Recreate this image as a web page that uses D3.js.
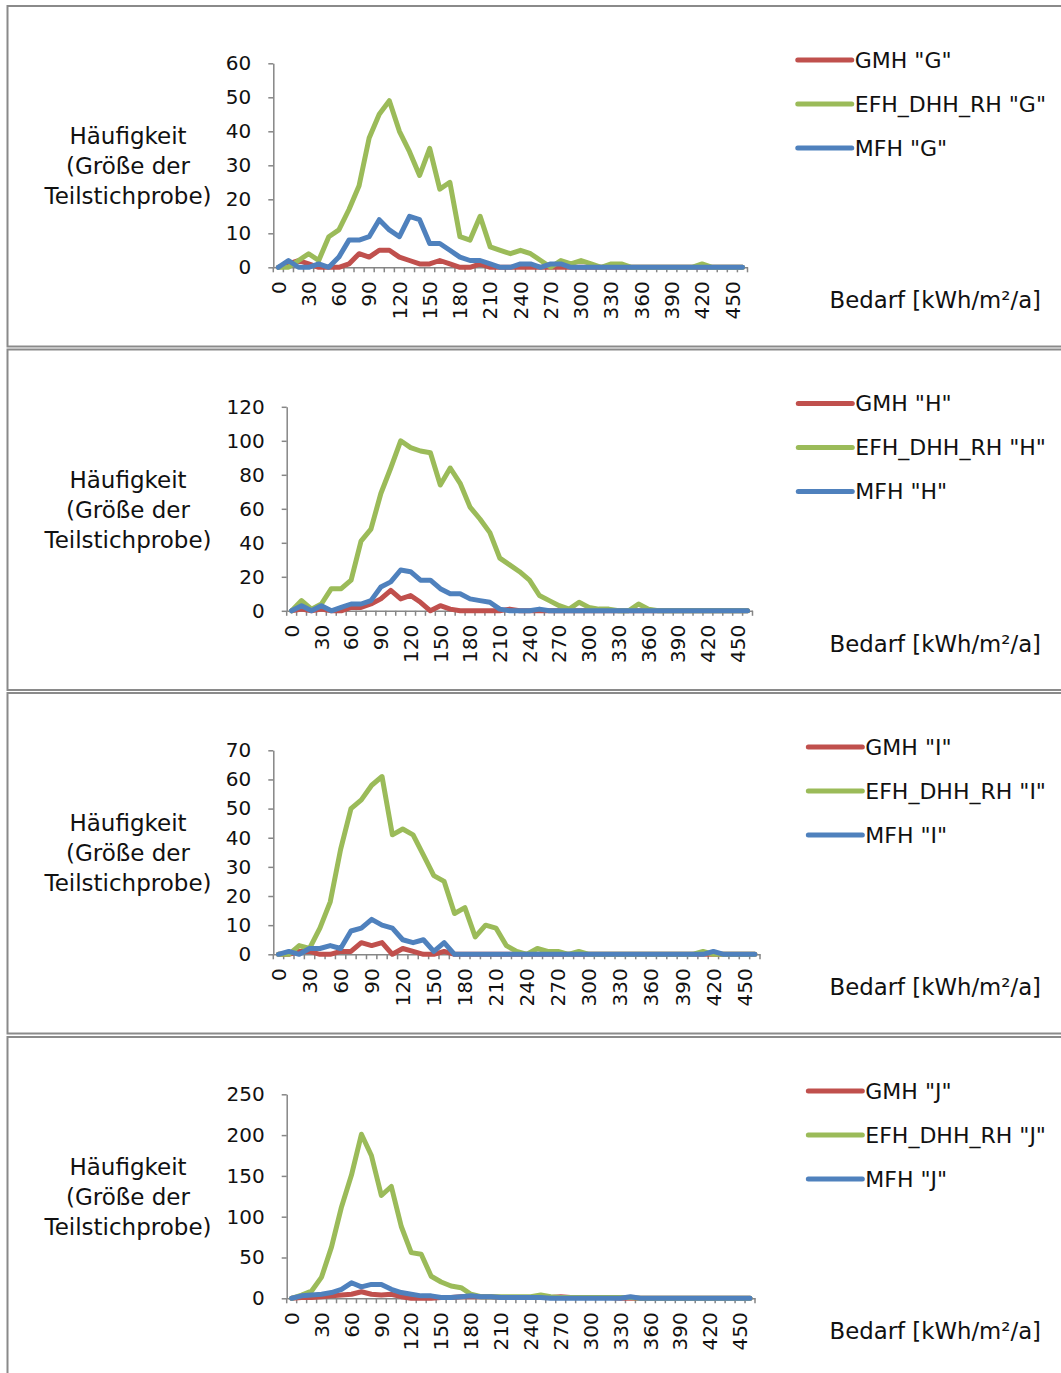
<!DOCTYPE html>
<html>
<head>
<meta charset="utf-8">
<script src="https://cdn.jsdelivr.net/npm/d3@7"></script>
<style>
  body { margin: 0; background: #fff; }
  text { font-family: "DejaVu Sans", sans-serif; fill: #111; }
</style>
</head>
<body>
<svg id="chart" width="1061" height="1373"></svg>
<script>
// DATA

var categories = [0,10,20,30,40,50,60,70,80,90,100,110,120,130,140,150,160,170,180,190,
  200,210,220,230,240,250,260,270,280,290,300,310,320,330,340,350,360,370,380,390,
  400,410,420,430,440,450,460];

var seriesNames  = ["GMH", "EFH_DHH_RH", "MFH"];
var seriesColors = ["#c0504d", "#9bbb59", "#4f81bd"];

var gmhG = [0,1,2,1,0,0,0,1,4,3, 5,5,3,2,1,1,2,1,0,0, 1,0,0,0,0,0,0,0,0,0, 0,0,0,0,0,0,0,0,0,0, 0,0,0,0,0,0,0];
var efhG = [0,0,2,4,2,9,11,17,24,38, 45,49,40,34,27,35,23,25,9,8, 15,6,5,4,5,4,2,0,2,1, 2,1,0,1,1,0,0,0,0,0, 0,0,1,0,0,0,0];
var mfhG = [0,2,0,0,1,0,3,8,8,9, 14,11,9,15,14,7,7,5,3,2, 2,1,0,0,1,1,0,1,1,0, 0,0,0,0,0,0,0,0,0,0, 0,0,0,0,0,0,0];

var gmhH = [0,1,0,1,0,0,2,2,4,7, 12,7,9,5,0,3,1,0,0,0, 0,0,1,0,0,0,0,0,0,0, 0,0,0,0,0,0,0,0,0,0, 0,0,0,0,0,0,0];
var efhH = [0,6,1,4,13,13,18,41,48,69, 84,100,96,94,93,74,84,75,61,54, 46,31,27,23,18,9,6,3,1,5, 2,1,1,0,0,4,1,0,0,0, 0,0,0,0,0,0,0];
var mfhH = [0,3,0,3,0,2,4,4,6,14, 17,24,23,18,18,13,10,10,7,6, 5,1,0,0,0,1,0,0,0,0, 0,0,0,0,0,0,0,0,0,0, 0,0,0,0,0,0,0];

var gmhI = [0,0,1,1,0,0,1,1,4,3, 4,0,2,1,0,0,1,0,0,0, 0,0,0,0,0,0,0,0,0,0, 0,0,0,0,0,0,0,0,0,0, 0,0,0,0,0,0,0];
var efhI = [0,0,3,2,9,18,36,50,53,58, 61,41,43,41,34,27,25,14,16,6, 10,9,3,1,0,2,1,1,0,1, 0,0,0,0,0,0,0,0,0,0, 0,1,0,0,0,0,0];
var mfhI = [0,1,0,2,2,3,2,8,9,12, 10,9,5,4,5,1,4,0,0,0, 0,0,0,0,0,0,0,0,0,0, 0,0,0,0,0,0,0,0,0,0, 0,0,1,0,0,0,0];

var gmhJ = [0,1,1,2,3,4,5,8,5,4, 5,2,0,0,0,1,1,2,2,2, 2,1,1,1,1,1,1,2,1,1, 1,1,1,0,0,0,0,0,0,0, 0,0,0,0,0,0,0];
var efhJ = [0,4,9,26,63,112,151,201,175,126, 137,88,56,54,27,20,15,13,5,2, 2,2,2,2,2,4,2,1,1,1, 1,1,1,1,1,0,0,0,0,0, 0,0,0,0,0,0,0];
var mfhJ = [0,3,4,5,7,11,19,14,17,17, 11,7,5,3,3,1,1,2,3,2, 2,1,1,1,1,1,0,0,0,0, 0,0,0,0,2,0,0,0,0,0, 0,0,0,0,0,0,0];

var yTicksG = [0,10,20,30,40,50,60];
var yTicksH = [0,20,40,60,80,100,120];
var yTicksI = [0,10,20,30,40,50,60,70];
var yTicksJ = [0,50,100,150,200,250];

var yTitle = ["Häufigkeit", "(Größe der", "Teilstichprobe)"];
var xTitle = "Bedarf [kWh/m²/a]";

// LAYOUT

var panels = [
  {label: "G", series: [gmhG, efhG, mfhG], yTicks: yTicksG, top: 6,     x0: 273.3, x1: 747.5},
  {label: "H", series: [gmhH, efhH, mfhH], yTicks: yTicksH, top: 349.5, x0: 286.7, x1: 752.5},
  {label: "I", series: [gmhI, efhI, mfhI], yTicks: yTicksI, top: 693,   x0: 273.3, x1: 760},
  {label: "J", series: [gmhJ, efhJ, mfhJ], yTicks: yTicksJ, top: 1037,  x0: 286.7, x1: 755}
];

var axis_color = "#868686";
var svg = d3.select("#chart");

function draw_panel(p){
  var g = svg.append("g").attr("class", "panel_" + p.label);

  g.append("rect")
    .attr("x", 7.5)
    .attr("y", p.top)
    .attr("width", 1100)
    .attr("height", 340.5)
    .attr("fill", "none")
    .attr("stroke", "#8a8a8a")
    .attr("stroke-width", 2);

  var y = d3.scaleLinear()
    .domain([0, d3.max(p.yTicks)])
    .range([p.top + 261.3, p.top + 57.3]);

  var x = d3.scaleBand()
    .domain(categories)
    .range([p.x0, p.x1])
    .padding(0);
  var bw = x.bandwidth();

  // y axis
  var yAxis = g.append("g")
    .attr("transform", "translate(" + p.x0 + ",0)")
    .call(d3.axisLeft(y).tickValues(p.yTicks).tickSize(5).tickSizeOuter(0).tickPadding(17));
  yAxis.selectAll("path, line").attr("stroke", axis_color).attr("stroke-width", 1.5);
  yAxis.selectAll("text").style("font-size", "20px").attr("fill", "#111");

  // x axis: labels at category centres, tick marks on the band edges
  var xAxis = g.append("g")
    .attr("transform", "translate(0," + y(0) + ")")
    .call(d3.axisBottom(x).tickSize(0).tickSizeOuter(0)
      .tickFormat(function(d, i){ return i % 3 === 0 ? d : ""; }));
  xAxis.select(".domain").attr("stroke", axis_color).attr("stroke-width", 1.5);
  xAxis.selectAll("text")
    .attr("x", -14)
    .attr("y", 0)
    .attr("dy", "0.36em")
    .attr("transform", "rotate(-90)")
    .style("text-anchor", "end")
    .style("font-size", "20px")
    .attr("fill", "#111");

  var edges = categories.map(function(c){ return x(c); }).concat([p.x1]);
  xAxis.selectAll(".edge")
    .data(edges)
    .enter().append("line")
      .attr("class", "edge")
      .attr("x1", function(d){ return d; })
      .attr("x2", function(d){ return d; })
      .attr("y1", 0)
      .attr("y2", 5)
      .attr("stroke", axis_color)
      .attr("stroke-width", 1.5);

  // lines
  var line = d3.line()
    .x(function(d, i){ return x(categories[i]) + bw / 2; })
    .y(function(d){ return y(d); });

  p.series.forEach(function(s, j){
    g.append("path")
      .datum(s)
      .attr("d", line)
      .attr("fill", "none")
      .attr("stroke", seriesColors[j])
      .attr("stroke-width", 5)
      .attr("stroke-linejoin", "round")
      .attr("stroke-linecap", "round");
  });

  // y title
  var title = g.append("text")
    .attr("text-anchor", "middle")
    .style("font-size", "23px");
  yTitle.forEach(function(t, k){
    title.append("tspan")
      .attr("x", 128)
      .attr("y", p.top + 130 + k * 30)
      .attr("dy", "0.36em")
      .text(t);
  });

  // x title
  g.append("text")
    .attr("x", 1041)
    .attr("y", p.top + 294)
    .attr("dy", "0.36em")
    .attr("text-anchor", "end")
    .style("font-size", "22.8px")
    .text(xTitle);

  // legend, right aligned on the longest entry
  var leg = g.append("g");
  var labels = leg.selectAll("text")
    .data(seriesNames)
    .enter().append("text")
      .attr("y", function(d, j){ return p.top + 54 + j * 44; })
      .attr("dy", "0.36em")
      .style("font-size", "22px")
      .text(function(d){ return d + ' "' + p.label + '"'; });
  var maxW = d3.max(labels.nodes(), function(n){ return n.getComputedTextLength(); });
  var lx = 1046 - maxW - 57;
  labels.attr("x", lx + 57);
  leg.selectAll("line")
    .data(seriesNames)
    .enter().append("line")
      .attr("x1", lx)
      .attr("x2", lx + 54)
      .attr("y1", function(d, j){ return p.top + 54 + j * 44; })
      .attr("y2", function(d, j){ return p.top + 54 + j * 44; })
      .attr("stroke", function(d, j){ return seriesColors[j]; })
      .attr("stroke-width", 5)
      .attr("stroke-linecap", "round");
}

panels.forEach(function(p){ draw_panel(p); });
</script>
</body>
</html>
